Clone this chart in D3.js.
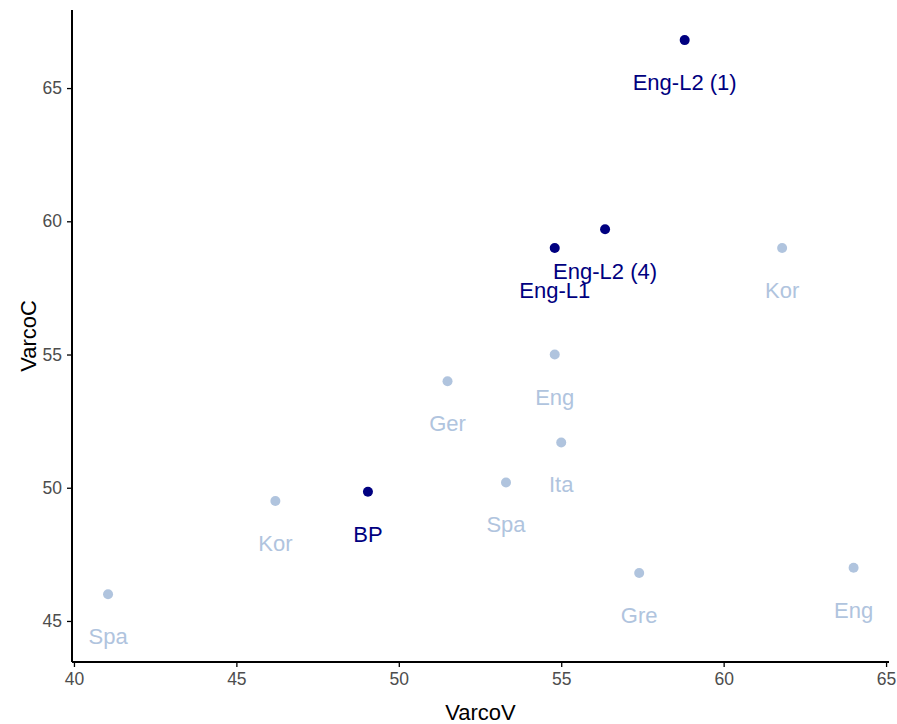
<!DOCTYPE html>
<html>
<head>
<meta charset="utf-8">
<script src="https://cdn.jsdelivr.net/npm/d3@7"></script>
<style>
  body { margin: 0; background: #fff; }
  text { font-family: "Liberation Sans", Arial, sans-serif; }
  .tick text { fill: #4d4d4d; font-size: 17.5px; }
  .axis path, .axis line { stroke: #000; }
</style>
</head>
<body>
<div id="chart"></div>
<script>
// labels, VarcoV, VarcoC and whether the point is one of the highlighted ones
const labels = ["Eng-L2 (1)", "Eng-L2 (4)", "Eng-L1", "Kor", "Eng", "Ger", "Ita", "Spa", "BP", "Kor", "Spa", "Gre", "Eng"];
const varcoV = [58.8, 56.35, 54.8, 61.8, 54.8, 51.5, 55.0, 53.3, 49.05, 46.2, 41.05, 57.4, 64.0];
const varcoC = [66.8, 59.7, 59.0, 59.0, 55.0, 54.0, 51.7, 50.2, 49.85, 49.5, 46.0, 46.8, 47.0];
const highlight = [true, true, true, false, false, false, false, false, true, false, false, false, false];
const xTicks = [40, 45, 50, 55, 60, 65];
const yTicks = [45, 50, 55, 60, 65];

const data = labels.map((l, i) => ({ label: l, v: varcoV[i], c: varcoC[i], hi: highlight[i] }));

const W = 897, H = 724;
const margin = { top: 10, right: 8, bottom: 62, left: 72 };
const width = W - margin.left - margin.right;
const height = H - margin.top - margin.bottom;

const svg = d3.select("#chart").append("svg")
    .attr("width", W)
    .attr("height", H);

const g = svg.append("g")
    .attr("transform", `translate(${margin.left},${margin.top})`);

const x = d3.scaleLinear().domain([39.94, 65.09]).range([0, width]);
const y = d3.scaleLinear().domain([43.46, 67.93]).range([height, 0]);

const xAxis = g.append("g")
    .attr("class", "axis")
    .attr("transform", `translate(0,${height})`)
    .call(d3.axisBottom(x).tickValues(xTicks).tickSize(5).tickPadding(6));

const yAxis = g.append("g")
    .attr("class", "axis")
    .call(d3.axisLeft(y).tickValues(yTicks).tickSize(5).tickPadding(5));

[xAxis, yAxis].forEach(a => {
    a.select(".domain").attr("stroke-width", 2);
    a.selectAll(".tick line").attr("stroke-width", 1.3);
});
yAxis.select(".domain").attr("d", `M0,0V${height}`);
xAxis.select(".domain").attr("d", `M0,0H${width}`);

// points
g.selectAll("circle.pt")
    .data(data)
    .join("circle")
    .attr("class", "pt")
    .attr("cx", d => x(d.v))
    .attr("cy", d => y(d.c))
    .attr("r", 5)
    .attr("fill", d => d.hi ? "#000080" : "#b0c4de");

// labels under the points
g.selectAll("text.lbl")
    .data(data)
    .join("text")
    .attr("class", "lbl")
    .attr("x", d => x(d.v))
    .attr("y", d => y(d.c) + 50)
    .attr("text-anchor", "middle")
    .attr("font-size", 22)
    .attr("fill", d => d.hi ? "#000080" : "#b0c4de")
    .text(d => d.label);

// axis titles
svg.append("text")
    .attr("x", margin.left + width / 2)
    .attr("y", 720)
    .attr("text-anchor", "middle")
    .attr("font-size", 22)
    .attr("fill", "#000")
    .text("VarcoV");

svg.append("text")
    .attr("transform", `translate(36,${margin.top + height / 2}) rotate(-90)`)
    .attr("text-anchor", "middle")
    .attr("font-size", 22)
    .attr("fill", "#000")
    .text("VarcoC");
</script>
</body>
</html>
